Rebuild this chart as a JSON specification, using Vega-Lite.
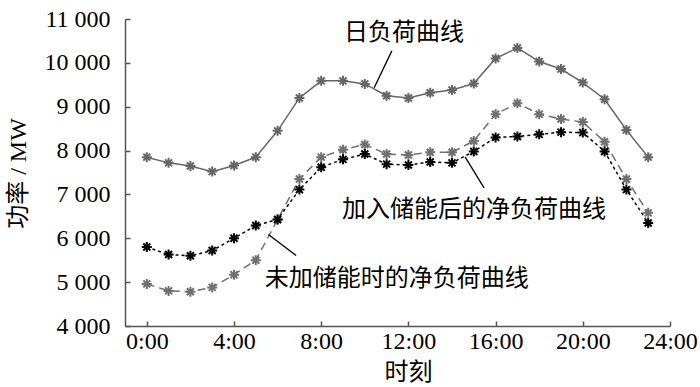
{
  "$schema": "https://vega.github.io/schema/vega-lite/v6.json",
  "autosize": "none",
  "width": 545,
  "height": 307,
  "padding": {"left": 125, "top": 19, "right": 30, "bottom": 61},
  "background": "white",
  "config": {
    "view": {"stroke": null},
    "axis": {
      "grid": false,
      "domainColor": "#555555",
      "domainWidth": 1.5,
      "tickColor": "#555555",
      "tickWidth": 1.5,
      "tickSize": -5,
      "labelFlush": false,
      "labelOverlap": false,
      "labelBound": false,
      "labelFont": "Liberation Serif, Noto Sans CJK SC",
      "labelFontSize": 24,
      "labelColor": "#000000",
      "titleFont": "Liberation Serif, Noto Sans CJK SC",
      "titleFontSize": 24,
      "titleFontWeight": "normal",
      "titleColor": "#000000"
    }
  },
  "data": {
    "values": [
      {"h": 0, "load": 7850, "without": 4960, "with": 5800},
      {"h": 1, "load": 7720, "without": 4800, "with": 5630},
      {"h": 2, "load": 7650, "without": 4780, "with": 5600},
      {"h": 3, "load": 7520, "without": 4880, "with": 5720},
      {"h": 4, "load": 7660, "without": 5170, "with": 6000},
      {"h": 5, "load": 7850, "without": 5500, "with": 6290},
      {"h": 6, "load": 8450, "without": 6430, "with": 6430},
      {"h": 7, "load": 9200, "without": 7350, "with": 7110},
      {"h": 8, "load": 9590, "without": 7850, "with": 7620},
      {"h": 9, "load": 9590, "without": 8020, "with": 7800},
      {"h": 10, "load": 9520, "without": 8140, "with": 7920},
      {"h": 11, "load": 9250, "without": 7920, "with": 7690},
      {"h": 12, "load": 9200, "without": 7900, "with": 7670},
      {"h": 13, "load": 9320, "without": 7960, "with": 7740},
      {"h": 14, "load": 9380, "without": 7960, "with": 7720},
      {"h": 15, "load": 9530, "without": 8220, "with": 7980},
      {"h": 16, "load": 10100, "without": 8830, "with": 8300},
      {"h": 17, "load": 10340, "without": 9080, "with": 8320},
      {"h": 18, "load": 10030, "without": 8830, "with": 8370},
      {"h": 19, "load": 9860, "without": 8720, "with": 8420},
      {"h": 20, "load": 9550, "without": 8650, "with": 8410},
      {"h": 21, "load": 9170, "without": 8200, "with": 7980},
      {"h": 22, "load": 8470, "without": 7350, "with": 7110},
      {"h": 23, "load": 7850, "without": 6580, "with": 6350}
    ]
  },
  "encoding": {
    "x": {
      "field": "h",
      "type": "quantitative",
      "scale": {"domain": [-1, 24], "nice": false, "zero": false},
      "axis": {
        "values": [0, 4, 8, 12, 16, 20, 24],
        "labelExpr": "datum.value + ':00'",
        "labelPadding": 8,
        "title": "时刻",
        "titleX": 283,
        "titleY": 46,
        "titleBaseline": "middle"
      }
    }
  },
  "layer": [
    {
      "mark": {"type": "line", "color": "#666666", "strokeWidth": 1.5},
      "encoding": {
        "y": {
          "field": "load",
          "type": "quantitative",
          "scale": {"domain": [4000, 11000], "nice": false, "zero": false},
          "axis": {
            "values": [4000, 5000, 6000, 7000, 8000, 9000, 10000, 11000],
            "labelExpr": "replace(format(datum.value, ','), ',', ' ')",
            "labelPadding": 20,
            "title": "功率 / MW",
            "titleAngle": -90,
            "titleBaseline": "middle",
            "titleX": -107,
            "titleY": 154
          }
        }
      }
    },
    {
      "mark": {"type": "line", "color": "#707070", "strokeWidth": 1.5, "strokeDash": [8, 5]},
      "encoding": {"y": {"field": "without", "type": "quantitative"}}
    },
    {
      "mark": {"type": "line", "color": "#000000", "strokeWidth": 1.5, "strokeDash": [3, 3]},
      "encoding": {"y": {"field": "with", "type": "quantitative"}}
    },
    {
      "mark": {"type": "point", "shape": "M-1,0L1,0M0,-1L0,1M-0.7,-0.7L0.7,0.7M-0.7,0.7L0.7,-0.7", "filled": false, "size": 100, "strokeWidth": 2, "color": "#666666", "opacity": 1},
      "encoding": {"y": {"field": "load", "type": "quantitative"}}
    },
    {
      "mark": {"type": "point", "shape": "M-1,0L1,0M0,-1L0,1M-0.7,-0.7L0.7,0.7M-0.7,0.7L0.7,-0.7", "filled": false, "size": 100, "strokeWidth": 2, "color": "#707070", "opacity": 1},
      "encoding": {"y": {"field": "without", "type": "quantitative"}}
    },
    {
      "mark": {"type": "point", "shape": "M-1,0L1,0M0,-1L0,1M-0.7,-0.7L0.7,0.7M-0.7,0.7L0.7,-0.7", "filled": false, "size": 100, "strokeWidth": 2, "color": "#000000", "opacity": 1},
      "encoding": {"y": {"field": "with", "type": "quantitative"}}
    },
    {
      "data": {
        "values": [
          {"x1": 11.24, "y1": 10273, "x2": 10.43, "y2": 9432},
          {"x1": 14.6, "y1": 7857, "x2": 15.47, "y2": 7150},
          {"x1": 5.58, "y1": 6084, "x2": 6.85, "y2": 5607}
        ]
      },
      "mark": {"type": "rule", "color": "#000000", "strokeWidth": 1.3},
      "encoding": {
        "x": {"field": "x1", "type": "quantitative"},
        "y": {"field": "y1", "type": "quantitative"},
        "x2": {"field": "x2"},
        "y2": {"field": "y2"}
      }
    },
    {
      "data": {
        "values": [
          {"tx": 11.8, "ty": 10675, "label": "日负荷曲线"},
          {"tx": 15.01, "ty": 6652, "label": "加入储能后的净负荷曲线"},
          {"tx": 11.46, "ty": 5061, "label": "未加储能时的净负荷曲线"}
        ]
      },
      "mark": {"type": "text", "font": "Liberation Serif, Noto Sans CJK SC", "fontSize": 24, "color": "#000000", "align": "center", "baseline": "middle"},
      "encoding": {
        "x": {"field": "tx", "type": "quantitative"},
        "y": {"field": "ty", "type": "quantitative"},
        "text": {"field": "label"}
      }
    }
  ]
}
